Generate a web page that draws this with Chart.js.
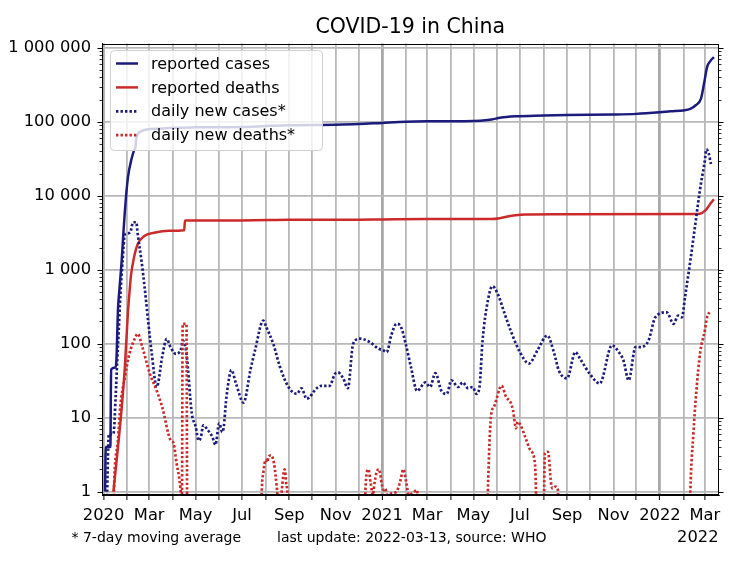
<!DOCTYPE html>
<html>
<head>
<meta charset="utf-8">
<title>COVID-19 in China</title>
<script src="https://cdn.jsdelivr.net/npm/chart.js@4.4.1/dist/chart.umd.min.js"></script>
<style>
  html, body { margin: 0; padding: 0; background: #fff; }
  #wrap { width: 748px; height: 561px; }
</style>
</head>
<body>
<div id="wrap"><canvas id="covidChart" width="748" height="561"></canvas></div>
<script>
// axis range and tick labels
const xStart = "2019-12-30";
const xEnd = "2022-03-19";
const xTickDates = ["2020-01-01", "2020-03-01", "2020-05-01", "2020-07-01", "2020-09-01", "2020-11-01",
                    "2021-01-01", "2021-03-01", "2021-05-01", "2021-07-01", "2021-09-01", "2021-11-01",
                    "2022-01-01", "2022-03-01"];
const xTickLabels = ["2020", "Mar", "May", "Jul", "Sep", "Nov", "2021", "Mar", "May", "Jul", "Sep", "Nov", "2022", "Mar"];
const yTickValues = [1, 10, 100, 1000, 10000, 100000, 1000000];
const yTickLabels = ["1", "10", "100", "1 000", "10 000", "100 000", "1 000 000"];

// reported cases (cumulative)
const casesDates = ["2020-01-03", "2020-01-04", "2020-01-10", "2020-01-11", "2020-01-17", "2020-01-18", "2020-01-20",
                    "2020-01-22", "2020-01-25", "2020-01-27", "2020-01-29", "2020-02-02", "2020-02-07", "2020-02-11",
                    "2020-02-12", "2020-02-13", "2020-02-20", "2020-02-29", "2020-03-15", "2020-04-01", "2020-05-01",
                    "2020-07-01", "2020-08-01", "2020-09-01", "2020-11-01", "2020-12-01", "2021-01-01", "2021-02-01",
                    "2021-03-01", "2021-05-10", "2021-05-25", "2021-06-05", "2021-06-25", "2021-08-01", "2021-09-01",
                    "2021-11-01", "2021-12-01", "2022-01-01", "2022-01-15", "2022-02-01", "2022-02-10", "2022-02-17",
                    "2022-02-24", "2022-02-28", "2022-03-04", "2022-03-09", "2022-03-13"];
const casesValues = [1, 4, 4, 45, 48, 62, 290,
                     560, 1400, 3000, 6100, 17500, 32000, 43000,
                     45000, 60000, 75000, 79500, 81000, 83400, 84400,
                     85200, 88000, 90400, 91800, 93500, 97000, 100500,
                     101800, 104000, 108000, 114000, 119000, 122000, 124000,
                     126000, 128500, 135000, 139000, 143000, 150000, 168000,
                     207000, 330000, 550000, 680000, 750000];

// reported deaths (cumulative)
const deathsDates = ["2020-01-14", "2020-01-16", "2020-01-20", "2020-01-25", "2020-01-29", "2020-02-02", "2020-02-04",
                     "2020-02-06", "2020-02-10", "2020-02-15", "2020-02-24", "2020-03-09", "2020-03-27", "2020-04-16",
                     "2020-04-17", "2020-07-01", "2020-09-01", "2020-12-01", "2021-01-01", "2021-03-01", "2021-05-25",
                     "2021-06-05", "2021-06-15", "2021-06-25", "2021-07-08", "2021-08-15", "2022-02-20", "2022-02-25",
                     "2022-03-01", "2022-03-05", "2022-03-09", "2022-03-13"];
const deathsValues = [1, 1.6, 4, 14, 48, 260, 480,
                      830, 1460, 2230, 2880, 3200, 3365, 3420,
                      4650, 4660, 4740, 4770, 4800, 4850, 4860,
                      5000, 5250, 5450, 5600, 5650, 5700, 5850,
                      6250, 7000, 8000, 9000];

// daily new cases, 7-day moving average
const newCasesDates = ["2020-01-03", "2020-01-05", "2020-01-08", "2020-01-14", "2020-01-17", "2020-01-19", "2020-01-21",
                       "2020-01-23", "2020-01-26", "2020-01-29", "2020-02-01", "2020-02-05", "2020-02-09", "2020-02-13",
                       "2020-02-15", "2020-02-20", "2020-02-24", "2020-02-29", "2020-03-04", "2020-03-11", "2020-03-18",
                       "2020-03-24", "2020-03-29", "2020-04-05", "2020-04-12", "2020-04-14", "2020-04-19", "2020-04-26",
                       "2020-05-01", "2020-05-05", "2020-05-08", "2020-05-11", "2020-05-17", "2020-05-23", "2020-05-27",
                       "2020-06-01", "2020-06-05", "2020-06-07", "2020-06-10", "2020-06-15", "2020-06-17", "2020-06-23",
                       "2020-07-03", "2020-07-12", "2020-07-18", "2020-07-29", "2020-08-02", "2020-08-11", "2020-08-20",
                       "2020-08-31", "2020-09-11", "2020-09-17", "2020-09-24", "2020-10-07", "2020-10-13", "2020-10-24",
                       "2020-10-31", "2020-11-04", "2020-11-11", "2020-11-17", "2020-11-24", "2020-12-03", "2020-12-16",
                       "2020-12-27", "2021-01-03", "2021-01-07", "2021-01-13", "2021-01-20", "2021-01-26", "2021-02-01",
                       "2021-02-08", "2021-02-16", "2021-02-27", "2021-03-05", "2021-03-12", "2021-03-20", "2021-03-27",
                       "2021-04-02", "2021-04-11", "2021-04-17", "2021-04-24", "2021-04-30", "2021-05-05", "2021-05-09",
                       "2021-05-13", "2021-05-20", "2021-05-26", "2021-06-02", "2021-06-11", "2021-06-19", "2021-06-30",
                       "2021-07-13", "2021-07-24", "2021-08-06", "2021-08-15", "2021-08-21", "2021-09-01", "2021-09-12",
                       "2021-09-18", "2021-10-01", "2021-10-14", "2021-10-30", "2021-11-08", "2021-11-14", "2021-11-21",
                       "2021-11-30", "2021-12-06", "2021-12-17", "2021-12-26", "2022-01-10", "2022-01-19", "2022-01-25",
                       "2022-01-30", "2022-02-03", "2022-02-10", "2022-02-16", "2022-02-23", "2022-03-01", "2022-03-03",
                       "2022-03-06", "2022-03-09"];
const newCasesValues = [0.5, 0.6, 6, 6, 20, 60, 150,
                        425, 1300, 3000, 3100, 3200, 4400, 4400,
                        3000, 1300, 580, 186, 80, 26, 66,
                        116, 90, 73, 86, 110, 73, 11.4,
                        7.6, 4.9, 5.5, 7.9, 6.8, 5.5, 4.3,
                        8.4, 6.4, 7.5, 17, 39, 44, 29,
                        16, 44, 81, 206, 167, 100, 48,
                        26, 21, 25, 18, 25, 27, 27,
                        39, 41, 34, 25, 100, 117, 105,
                        86, 81, 77, 129, 186, 167, 100,
                        48, 23, 30, 26, 40, 23, 21,
                        32, 26, 30, 25, 26, 21, 26,
                        110, 385, 600, 470, 255, 150, 81,
                        54, 81, 129, 75, 44, 34, 77,
                        63, 39, 29, 95, 77, 60, 32,
                        90, 90, 110, 228, 266, 186, 240,
                        228, 425, 1325, 3760, 12800, 29600, 42500,
                        38000, 27000];

// daily new deaths, 7-day moving average
const newDeathsDates = ["2020-01-13", "2020-01-15", "2020-01-20", "2020-01-23", "2020-01-29", "2020-02-04", "2020-02-11",
                        "2020-02-15", "2020-02-21", "2020-03-02", "2020-03-11", "2020-03-18", "2020-03-29", "2020-04-02",
                        "2020-04-06", "2020-04-10", "2020-04-12", "2020-04-13", "2020-04-14", "2020-04-19", "2020-04-20",
                        "2020-04-22", "2020-07-25", "2020-07-27", "2020-07-29", "2020-08-01", "2020-08-03", "2020-08-05",
                        "2020-08-08", "2020-08-12", "2020-08-16", "2020-08-18", "2020-08-22", "2020-08-24", "2020-08-26",
                        "2020-08-28", "2020-08-30", "2020-09-01", "2020-12-08", "2020-12-10", "2020-12-14", "2020-12-17",
                        "2020-12-20", "2020-12-22", "2020-12-25", "2020-12-28", "2021-01-01", "2021-01-03", "2021-01-05",
                        "2021-01-08", "2021-01-14", "2021-01-20", "2021-01-25", "2021-01-29", "2021-02-02", "2021-02-05",
                        "2021-02-10", "2021-02-16", "2021-02-19", "2021-05-18", "2021-05-20", "2021-05-24", "2021-05-28",
                        "2021-06-07", "2021-06-13", "2021-06-19", "2021-06-22", "2021-06-26", "2021-06-28", "2021-07-02",
                        "2021-07-08", "2021-07-15", "2021-07-21", "2021-07-23", "2021-07-25", "2021-07-31", "2021-08-03",
                        "2021-08-07", "2021-08-11", "2021-08-13", "2021-08-17", "2021-08-20", "2021-08-22", "2022-02-08",
                        "2022-02-10", "2022-02-14", "2022-02-18", "2022-02-23", "2022-03-01", "2022-03-04", "2022-03-09"];
const newDeathsValues = [0.14, 1.3, 5, 14, 35, 73, 117,
                         136, 90, 39, 23, 14, 5, 4.5,
                         2.4, 1.4, 0.9, 0.8, 186, 186, 0.3,
                         0.1, 0.1, 1.05, 1.8, 2.7, 2.5, 3.0,
                         3.1, 2.4, 1.05, 0.6, 1.0, 1.6, 2.0,
                         1.3, 0.8, 0.1, 0.1, 1.0, 2.0, 1.3,
                         0.9, 1.3, 1.86, 2.0, 1.2, 1.05, 1.1,
                         0.9, 0.95, 1.0, 1.4, 2.0, 1.3, 0.9,
                         0.95, 1.05, 0.1, 0.1, 1.0, 10.2, 14,
                         27, 19, 16, 12.6, 7.2, 8.8, 7.9,
                         5.5, 3.6, 2.3, 0.5, 0.1, 0.1, 3.3,
                         3.45, 1.3, 1.1, 1.17, 1.05, 0.1, 0.1,
                         1.0, 6.1, 23.5, 77, 150, 228, 280];

const NAVY = "#1b1b7c";
const RED = "#cc2a2a";
const FONT = "'DejaVu Sans', 'Liberation Sans', sans-serif";

const T0 = Date.UTC(2020, 0, 1);
function dayOf(s) {
    const [y, m, d] = s.split("-").map(Number);
    return (Date.UTC(y, m - 1, d) - T0) / 86400000;
}
function toPoints(dates, values) {
    return dates.map((d, i) => ({ x: dayOf(d), y: values[i] }));
}

// one grid line per month
const monthDays = [];
for (let y = 2020; y <= 2022; y++) {
    for (let m = 0; m < 12; m++) {
        const v = (Date.UTC(y, m, 1) - T0) / 86400000;
        if (v <= dayOf(xEnd)) monthDays.push(v);
    }
}
const yearDays = [dayOf("2020-01-01"), dayOf("2021-01-01"), dayOf("2022-01-01")];
const labelByDay = new Map(xTickDates.map((d, i) => [dayOf(d), xTickLabels[i]]));

const extras = {
    id: "extras",
    afterDatasetsDraw(chart) {
        const { ctx, chartArea: a, scales } = chart;
        const y = scales.y;
        const L = Math.round(a.left) + 0.5, R = Math.round(a.right) - 0.5;
        const T = Math.round(a.top) + 0.5, B = Math.round(a.bottom) - 0.5;
        ctx.save();
        ctx.strokeStyle = "#000";
        ctx.lineWidth = 1;
        ctx.strokeRect(L, T, R - L, B - T);
        // log ticks, left and right
        for (let n = 0; n <= 6; n++) {
            for (let k = 1; k <= 9; k++) {
                const v = k * Math.pow(10, n);
                if (v < y.min || v > y.max) continue;
                const py = Math.round(y.getPixelForValue(v)) + 0.5;
                const len = k === 1 ? 5 : 3;
                ctx.lineWidth = k === 1 ? 1 : 0.8;
                ctx.beginPath();
                ctx.moveTo(L - len, py); ctx.lineTo(L, py);
                ctx.moveTo(R, py); ctx.lineTo(R + len, py);
                ctx.stroke();
            }
        }
        ctx.restore();
    },
    afterDraw(chart) {
        const { ctx, chartArea: a } = chart;
        ctx.save();
        // title
        ctx.fillStyle = "#000";
        ctx.font = "20.5px " + FONT;
        ctx.textAlign = "center";
        ctx.textBaseline = "alphabetic";
        ctx.fillText("COVID-19 in China", (a.left + a.right) / 2, 33);

        // legend
        const bx = a.left + 8, by = a.top + 6.5, bw = 212, bh = 100;
        ctx.beginPath();
        ctx.roundRect(bx + 0.5, by + 0.5, bw, bh, 4);
        ctx.fillStyle = "rgba(255,255,255,0.8)";
        ctx.fill();
        ctx.strokeStyle = "#d0d0d0";
        ctx.lineWidth = 1;
        ctx.stroke();
        ctx.font = "16px " + FONT;
        ctx.textAlign = "left";
        ctx.textBaseline = "middle";
        chart.data.datasets.forEach((ds, i) => {
            const ry = by + 13.5 + i * 23.9;
            ctx.save();
            ctx.strokeStyle = ds.borderColor;
            ctx.lineWidth = ds.borderWidth;
            ctx.setLineDash(ds.borderDash || []);
            ctx.beginPath();
            ctx.moveTo(bx + 6, ry);
            ctx.lineTo(bx + 28, ry);
            ctx.stroke();
            ctx.restore();
            ctx.fillStyle = "#000";
            ctx.fillText(ds.label, bx + 41, ry + 1);
        });

        // footer notes
        ctx.textBaseline = "alphabetic";
        ctx.font = "14px " + FONT;
        ctx.textAlign = "left";
        ctx.fillText("* 7-day moving average", 71.5, 541.5);
        ctx.fillText("last update: 2022-03-13, source: WHO", 277, 541.5);
        ctx.font = "16.3px " + FONT;
        ctx.textAlign = "right";
        ctx.fillText("2022", a.right, 541.5);
        ctx.restore();
    }
};

const ctx = document.getElementById("covidChart");
Chart.defaults.font.family = FONT;

new Chart(ctx, {
    type: "line",
    data: {
        datasets: [
            { label: "reported cases", data: toPoints(casesDates, casesValues), borderColor: NAVY, borderWidth: 2.5, order: 4 },
            { label: "reported deaths", data: toPoints(deathsDates, deathsValues), borderColor: RED, borderWidth: 2.5, order: 3 },
            { label: "daily new cases*", data: toPoints(newCasesDates, newCasesValues), borderColor: NAVY, borderWidth: 2.7, borderDash: [2.4, 2.1], order: 2 },
            { label: "daily new deaths*", data: toPoints(newDeathsDates, newDeathsValues), borderColor: RED, borderWidth: 2.7, borderDash: [2.4, 2.1], order: 1 }
        ]
    },
    options: {
        responsive: false,
        animation: false,
        layout: { padding: { top: 43.5, right: 29.5, bottom: 0, left: 0 } },
        elements: {
            point: { radius: 0, hoverRadius: 0 },
            line: { fill: false, cubicInterpolationMode: "monotone", borderCapStyle: "butt" }
        },
        plugins: {
            legend: { display: false },
            title: { display: false },
            tooltip: { enabled: false }
        },
        scales: {
            x: {
                type: "linear",
                bounds: "data",
                min: dayOf(xStart),
                max: dayOf(xEnd),
                afterBuildTicks: s => { s.ticks = monthDays.map(v => ({ value: v })); },
                afterFit: s => { s.height = 66; },
                grid: {
                    color: c => (c.tick && yearDays.includes(c.tick.value)) ? "#a8a8a8" : "#b8b8b8",
                    lineWidth: c => (c.tick && yearDays.includes(c.tick.value) && c.tick.value > 0) ? 2.8 : 1.8,
                    drawTicks: true,
                    tickLength: 5,
                    tickColor: "#000",
                    tickWidth: 1
                },
                border: { display: true, color: "#000", width: 1 },
                ticks: {
                    autoSkip: false,
                    maxRotation: 0,
                    padding: 6,
                    color: "#000",
                    font: { size: 16.3 },
                    callback: v => labelByDay.get(v) || ""
                }
            },
            y: {
                type: "logarithmic",
                bounds: "data",
                min: 0.9,
                max: 1150000,
                afterBuildTicks: s => { s.ticks = yTickValues.map(v => ({ value: v })); },
                afterFit: s => { s.width = 102; },
                grid: { color: "#b8b8b8", lineWidth: 1.8, drawTicks: false },
                border: { display: true, color: "#000", width: 1 },
                ticks: {
                    padding: 11,
                    color: "#000",
                    font: { size: 16.3 },
                    callback: v => {
                        const i = yTickValues.indexOf(v);
                        return i >= 0 ? yTickLabels[i] : "";
                    }
                }
            }
        }
    },
    plugins: [extras]
});
</script>
</body>
</html>
